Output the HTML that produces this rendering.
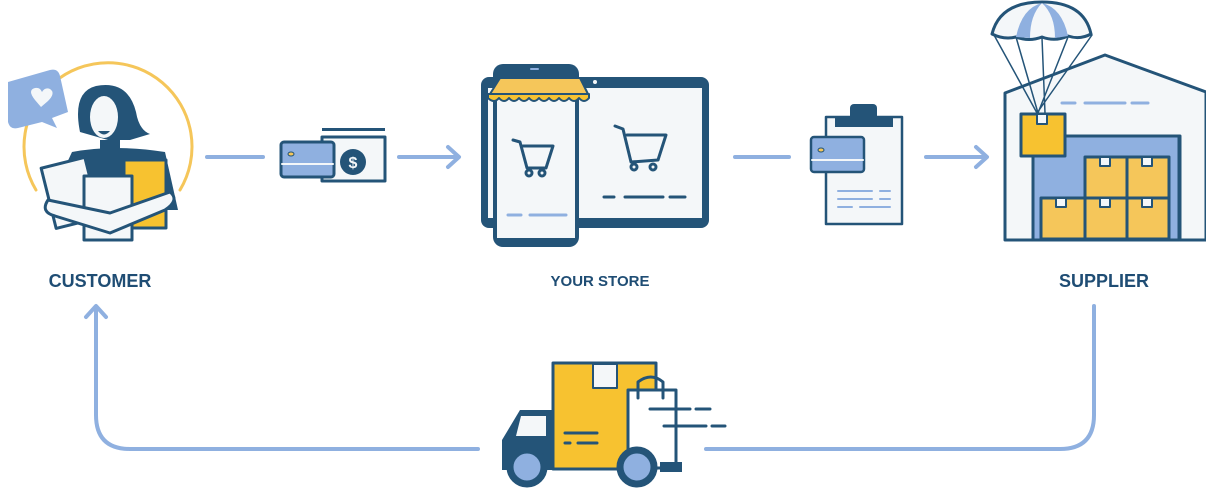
<!DOCTYPE html>
<html><head><meta charset="utf-8"><style>
html,body{margin:0;padding:0;background:#fff;width:1206px;height:488px;overflow:hidden}
svg{display:block}
text{font-family:"Liberation Sans",sans-serif;font-weight:bold;fill:#1f4d74}
</style></head><body>
<svg width="1206" height="488" viewBox="0 0 1206 488" xmlns="http://www.w3.org/2000/svg">
<g fill="none" stroke-linecap="round" stroke-linejoin="round">
<g stroke="#8fb0e0" stroke-width="4">
<line x1="207" y1="157" x2="263" y2="157"/>
<line x1="399" y1="157" x2="458" y2="157"/><polyline points="448,147 459,157 448,167"/>
<line x1="735" y1="157" x2="789" y2="157"/>
<line x1="926" y1="157" x2="986" y2="157"/><polyline points="976,147 987,157 976,167"/>
<path d="M1094 306 V415 Q1094 449 1060 449 H706"/>
<path d="M478 449 H130 Q96 449 96 415 V307"/><polyline points="86,317 96,306 106,317"/>
</g>
<!-- customer -->
<path d="M36 190 A84 84 0 1 1 180 190" stroke="#f5c65a" stroke-width="3"/>
<path d="M8 82 L50 70 Q58 68 60 76 L68 112 L52 118 L57 128 L42 122 L18 128 Q10 130 8 122 Z" fill="#8fb0e0" stroke="none"/>
<path d="M35 100 q-8 -10 0 -12 q5 -1 7 4 q3 -5 8 -3 q6 4 -2 12 l-7 6 z" fill="#f4f7f9"/>
<path d="M80 132 Q72 92 96 86 Q128 80 136 112 Q139 130 150 134 L130 140 L108 140 Z" fill="#245478"/>
<ellipse cx="104" cy="117" rx="14" ry="21" fill="#f4f7f9"/>
<path d="M98 131 q6 7 12 0 z" fill="#245478"/>
<rect x="100" y="140" width="20" height="15" fill="#245478"/>
<path d="M72 152 Q115 144 165 152 L178 210 L45 210 Z" fill="#245478"/>
<rect x="124" y="160" width="42" height="68" fill="#f7c230" stroke="#245478" stroke-width="3"/>
<rect x="48" y="162" width="45" height="62" transform="rotate(-14 70 193)" fill="#f4f7f9" stroke="#245478" stroke-width="3"/>
<rect x="84" y="176" width="48" height="64" fill="#f4f7f9" stroke="#245478" stroke-width="3"/>
<path d="M48 200 Q40 212 55 216 L110 233 L165 210 Q180 200 170 192 L110 213 Z" fill="#f4f7f9" stroke="#245478" stroke-width="3"/>
<!-- card + money -->
<rect x="322" y="128" width="63" height="3" fill="#245478" stroke="none"/>
<rect x="322" y="137" width="63" height="44" fill="#f4f7f9" stroke="#245478" stroke-width="3"/>
<circle cx="353" cy="162" r="13" fill="#245478"/>
<text x="353" y="168" text-anchor="middle" font-size="16" style="fill:#f4f7f9">$</text>
<rect x="281" y="142" width="53" height="35" rx="3" fill="#8fb0e0" stroke="#245478" stroke-width="3"/>
<line x1="282" y1="164" x2="333" y2="164" stroke="#f4f7f9" stroke-width="2"/>
<ellipse cx="291" cy="154" rx="3" ry="2" fill="#f5c65a" stroke="#245478" stroke-width="1"/>
<!-- store -->
<rect x="481" y="77" width="228" height="151" rx="8" fill="#245478"/>
<rect x="488" y="88" width="214" height="130" fill="#f4f7f9"/>
<circle cx="595" cy="82" r="2" fill="#f4f7f9"/>
<rect x="493" y="64" width="86" height="183" rx="10" fill="#245478"/>
<rect x="497" y="90" width="78" height="148" fill="#f4f7f9"/>
<path d="M490 94 L500 78 L580 78 L588 94 Z" fill="#f5c65a" stroke="#245478" stroke-width="2"/>
<path d="M488 94 H589 V98 Q584 104 579 98 Q574 104 569 98 Q564 104 559 98 Q554 104 549 98 Q544 104 539 98 Q534 104 529 98 Q524 104 519 98 Q514 104 509 98 Q504 104 499 98 Q494 104 488 98 Z" fill="#f7c230" stroke="#245478" stroke-width="2"/>
<line x1="531" y1="69" x2="538" y2="69" stroke="#8fb0e0" stroke-width="2"/>
<g stroke="#245478" stroke-width="3">
<path d="M513 140 L520 142 L527 168 L546 168 L553 146 L523 146"/><circle cx="529" cy="173" r="3"/><circle cx="542" cy="173" r="3"/>
<path d="M615 126 L623 129 L631 162 L658 160 L666 135 L627 135"/><circle cx="634" cy="167" r="3"/><circle cx="653" cy="167" r="3"/>
<line x1="604" y1="197" x2="614" y2="197"/><line x1="625" y1="197" x2="663" y2="197"/><line x1="670" y1="197" x2="685" y2="197"/>
</g>
<g stroke="#8fb0e0" stroke-width="3"><line x1="508" y1="215" x2="521" y2="215"/><line x1="530" y1="215" x2="566" y2="215"/></g>
<!-- clipboard -->
<rect x="826" y="117" width="76" height="107" fill="#f4f7f9" stroke="#245478" stroke-width="2.5"/>
<rect x="835" y="118" width="58" height="9" fill="#245478"/>
<rect x="850" y="104" width="27" height="16" rx="4" fill="#245478"/>
<rect x="811" y="137" width="53" height="35" rx="3" fill="#8fb0e0" stroke="#245478" stroke-width="2.5"/>
<line x1="812" y1="160" x2="863" y2="160" stroke="#f4f7f9" stroke-width="2"/>
<ellipse cx="821" cy="150" rx="3" ry="2" fill="#f5c65a" stroke="#245478" stroke-width="1"/>
<g stroke="#8fb0e0" stroke-width="2"><line x1="838" y1="191" x2="872" y2="191"/><line x1="880" y1="191" x2="890" y2="191"/><line x1="838" y1="199" x2="872" y2="199"/><line x1="880" y1="199" x2="890" y2="199"/><line x1="838" y1="207" x2="852" y2="207"/><line x1="860" y1="207" x2="890" y2="207"/></g>
<!-- warehouse -->
<path d="M1005 93 L1105 55 L1206 92 V240 H1180 V136 H1033 V240 H1005 Z" fill="#f4f7f9" stroke="#245478" stroke-width="3"/>
<rect x="1033" y="136" width="146" height="104" fill="#8fb0e0" stroke="#245478" stroke-width="3"/>
<g stroke="#8fb0e0" stroke-width="3"><line x1="1062" y1="103" x2="1075" y2="103"/><line x1="1085" y1="103" x2="1125" y2="103"/><line x1="1132" y1="103" x2="1148" y2="103"/></g>
<g fill="#f5c65a" stroke="#245478" stroke-width="3">
<rect x="1085" y="157" width="42" height="41"/><rect x="1127" y="157" width="42" height="41"/>
<rect x="1041" y="198" width="44" height="41"/><rect x="1085" y="198" width="42" height="41"/><rect x="1127" y="198" width="42" height="41"/>
</g>
<g fill="#f4f7f9" stroke="#245478" stroke-width="2"><rect x="1100" y="157" width="10" height="9"/><rect x="1142" y="157" width="10" height="9"/><rect x="1056" y="198" width="10" height="9"/><rect x="1100" y="198" width="10" height="9"/><rect x="1142" y="198" width="10" height="9"/></g>
<g stroke="#245478" stroke-width="1.5"><path d="M994 35 L1037 113 L1092 35 M1016 37 L1038 113 L1068 37 M1042 38 L1045 113"/></g>
<path d="M992 34 Q1000 2 1042 2 Q1084 2 1091 34 Q1080 40 1068 36 Q1055 42 1042 37 Q1029 42 1016 37 Q1004 40 992 34 Z" fill="#f4f7f9" stroke="#245478" stroke-width="3"/>
<path d="M1016 37 Q1022 8 1042 3 Q1030 15 1030 38 Z M1055 38 Q1055 15 1042 3 Q1062 8 1068 36 Z" fill="#8fb0e0"/>
<rect x="1021" y="114" width="44" height="42" fill="#f7c230" stroke="#245478" stroke-width="3"/>
<rect x="1037" y="114" width="10" height="10" fill="#f4f7f9" stroke="#245478" stroke-width="2"/>
<!-- truck -->
<rect x="553" y="363" width="103" height="106" fill="#f7c230" stroke="#245478" stroke-width="3"/>
<rect x="593" y="364" width="24" height="24" fill="#f4f7f9" stroke="#245478" stroke-width="2"/>
<path d="M553 410 H520 L502 440 V470 H553 Z" fill="#245478"/>
<path d="M521 416 H546 V436 H516 Z" fill="#f4f7f9"/>
<path d="M628 390 H676 V468 H628 Z" fill="#fff" stroke="#245478" stroke-width="3"/>
<path d="M638 398 V382 Q651 372 663 382 V398" stroke="#245478" stroke-width="3"/>
<rect x="660" y="462" width="22" height="10" fill="#245478"/>
<g stroke="#245478" stroke-width="3"><line x1="565" y1="433" x2="597" y2="433"/><line x1="565" y1="443" x2="570" y2="443"/><line x1="578" y1="443" x2="597" y2="443"/>
<line x1="650" y1="409" x2="690" y2="409"/><line x1="696" y1="409" x2="710" y2="409"/><line x1="664" y1="426" x2="706" y2="426"/><line x1="712" y1="426" x2="725" y2="426"/></g>
<circle cx="527" cy="467" r="17" fill="#8fb0e0" stroke="#245478" stroke-width="7"/>
<circle cx="637" cy="467" r="17" fill="#8fb0e0" stroke="#245478" stroke-width="7"/>
</g>
<text x="100" y="287" text-anchor="middle" font-size="18">CUSTOMER</text>
<text x="600" y="286" text-anchor="middle" font-size="15">YOUR STORE</text>
<text x="1104" y="287" text-anchor="middle" font-size="18">SUPPLIER</text>
</svg>
</body></html>
